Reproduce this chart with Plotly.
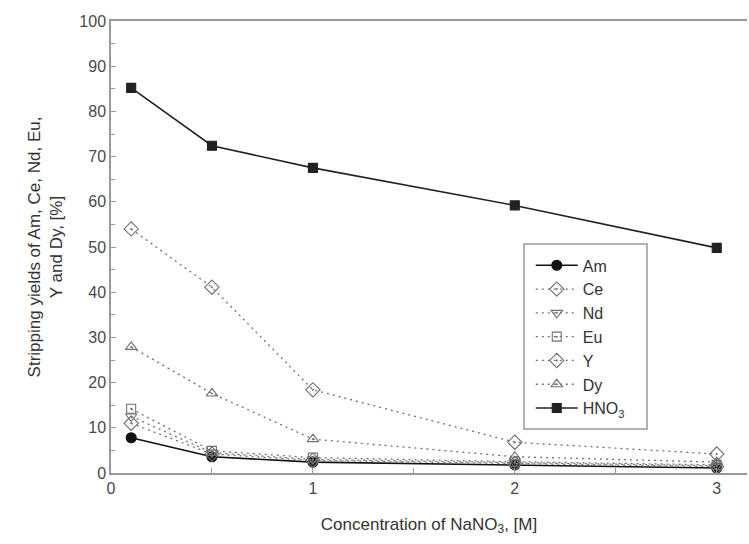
import plotly.graph_objects as go

conc = [0.1, 0.5, 1, 2, 3]
am = [7.8, 3.6, 2.4, 1.8, 1.1]
ce = [11.0, 4.2, 2.8, 2.1, 1.4]
nd = [12.5, 4.5, 3.0, 2.3, 1.6]
eu = [14.2, 4.9, 3.4, 2.5, 1.8]
y_el = [54.0, 41.1, 18.4, 6.8, 4.2]
dy = [27.9, 17.6, 7.5, 3.6, 2.4]
hno3 = [85.2, 72.4, 67.5, 59.2, 49.8]

FONT = "Liberation Sans, Arial, sans-serif"
DOTC = "#707070"

series = [
    ("Am", am, "circle", "solid", "#111111", 10, 1.6),
    ("Ce", ce, "diamond-open-dot", "2px,4px", DOTC, 11, 1.3),
    ("Nd", nd, "triangle-down-open-dot", "2px,4px", DOTC, 10, 1.3),
    ("Eu", eu, "square-open-dot", "2px,4px", DOTC, 9, 1.3),
    ("Y", y_el, "diamond-open-dot", "2px,4px", DOTC, 11, 1.3),
    ("Dy", dy, "triangle-up-open-dot", "2px,4px", DOTC, 10, 1.3),
    ("HNO<sub>3</sub>", hno3, "square", "solid", "#222222", 9, 1.6),
]

fig = go.Figure()
for i, (name, vals, sym, dash, col, size, lw) in enumerate(series):
    fig.add_trace(go.Scatter(
        x=conc, y=vals, name=name, mode="lines+markers",
        line=dict(color=col, dash=dash, width=lw),
        marker=dict(symbol=sym, size=size, color=col,
                    line=dict(color=col, width=1.1)),
    ))

axis_common = dict(
    showgrid=False, zeroline=False, showline=True, linecolor="#999999",
    linewidth=1.5, ticks="inside", ticklen=5, tickcolor="#999999",
    tickfont=dict(family=FONT, size=16, color="#4a4a4a"),
)

fig.update_xaxes(range=[0, 3.15], dtick=1, tick0=0, mirror=True,
                 minor=dict(dtick=0.5, ticks="inside", ticklen=5, tickcolor="#999999"),
                 **axis_common)
fig.update_yaxes(range=[0, 100], dtick=10, tick0=0,
                 minor=dict(dtick=5, ticks="inside", ticklen=4, tickcolor="#999999"),
                 title=dict(text="Stripping yields of Am, Ce, Nd, Eu,<br>Y and Dy, [%]",
                            font=dict(family=FONT, size=17, color="#333333"), standoff=12),
                 **axis_common)
fig.update_xaxes(title=dict(text="Concentration of NaNO<sub>3</sub>, [M]",
                            font=dict(family=FONT, size=17, color="#333333"), standoff=22))

# legend frame (styling box behind the legend entries)
fig.add_shape(type="rect", xref="paper", yref="paper",
              x0=0.6494, x1=0.8428, y0=0.0973, y1=0.5066,
              line=dict(color="#999999", width=1.5), fillcolor="white", layer="above")

fig.update_layout(
    width=749, height=544,
    margin=dict(l=111, r=2, t=21, b=71),
    plot_bgcolor="white", paper_bgcolor="white",
    font=dict(family=FONT, color="#333333"),
    legend=dict(x=0.660, y=0.497, xanchor="left", yanchor="top",
                bgcolor="rgba(0,0,0,0)", borderwidth=0,
                font=dict(family=FONT, size=16, color="#333333"),
                itemwidth=42, tracegroupgap=0),
)

fig.write_html("out.html")
